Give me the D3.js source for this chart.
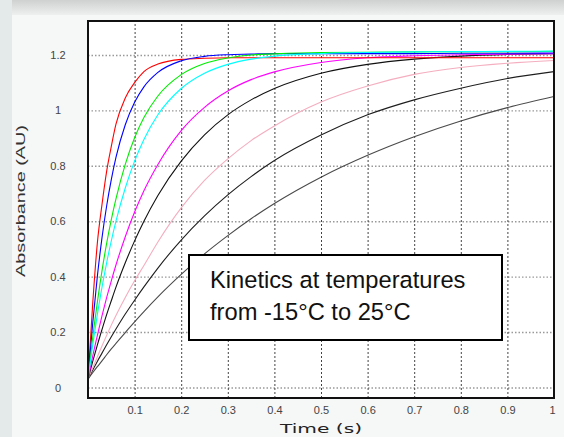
<!DOCTYPE html>
<html lang="en">
<head>
<meta charset="utf-8">
<style>
  body { margin: 0; background: #f4f5f5; }
  svg { display: block; font-family: 'Liberation Sans', Arial, sans-serif; }
  .grid-x line { stroke: #444; stroke-dasharray: 2,2; }
  .grid-y line { stroke: #999; stroke-width: 1.4; stroke-dasharray: 1.5,2; }
  .axis text { fill: #444; font-size: 11px; }
  .axis path, .axis line { display: none; }
  .curve { fill: none; stroke-width: 1.1; }
</style>
</head>
<body>
<svg width="564" height="437"></svg>
<script src="https://cdnjs.cloudflare.com/ajax/libs/d3/7.8.5/d3.min.js"></script>
<script>
// sample times (s)
var times = [0, 0.01, 0.02, 0.03, 0.04, 0.05, 0.06, 0.08, 0.1, 0.12, 0.15, 0.2,
             0.25, 0.3, 0.35, 0.4, 0.5, 0.6, 0.7, 0.8, 0.9, 1.0];

// absorbance, warmest (fastest) to coldest
var red     = [0.03, 0.30, 0.52, 0.66, 0.78, 0.87, 0.95, 1.045, 1.10, 1.14, 1.167, 1.184, 1.188, 1.19, 1.19, 1.19, 1.19, 1.19, 1.19, 1.19, 1.19, 1.19];
var blue    = [0.03, 0.23, 0.40, 0.54, 0.655, 0.75, 0.83, 0.948, 1.029, 1.085, 1.137, 1.179, 1.195, 1.201, 1.203, 1.205, 1.205, 1.205, 1.205, 1.206, 1.206, 1.207];
var green   = [0.03, 0.178, 0.307, 0.421, 0.52, 0.606, 0.681, 0.805, 0.901, 0.974, 1.052, 1.129, 1.169, 1.189, 1.20, 1.204, 1.209, 1.21, 1.211, 1.212, 1.212, 1.213];
var cyan    = [0.03, 0.153, 0.263, 0.361, 0.45, 0.529, 0.60, 0.72, 0.817, 0.895, 0.984, 1.079, 1.134, 1.166, 1.185, 1.196, 1.205, 1.209, 1.211, 1.212, 1.213, 1.214];
var magenta = [0.03, 0.112, 0.187, 0.258, 0.324, 0.385, 0.442, 0.544, 0.633, 0.71, 0.805, 0.927, 1.011, 1.07, 1.111, 1.139, 1.173, 1.19, 1.197, 1.201, 1.203, 1.205];
var black1  = [0.03, 0.093, 0.153, 0.209, 0.263, 0.313, 0.362, 0.45, 0.529, 0.60, 0.693, 0.817, 0.912, 0.984, 1.038, 1.079, 1.134, 1.166, 1.185, 1.196, 1.202, 1.205];
var pink    = [0.03, 0.07, 0.11, 0.15, 0.188, 0.225, 0.26, 0.325, 0.385, 0.44, 0.525, 0.648, 0.747, 0.825, 0.891, 0.944, 1.03, 1.088, 1.13, 1.155, 1.17, 1.18];
var black2  = [0.03, 0.062, 0.094, 0.124, 0.154, 0.183, 0.211, 0.265, 0.315, 0.363, 0.431, 0.532, 0.619, 0.695, 0.761, 0.819, 0.911, 0.984, 1.038, 1.08, 1.115, 1.14];
var black3  = [0.03, 0.053, 0.075, 0.096, 0.118, 0.139, 0.159, 0.198, 0.237, 0.274, 0.327, 0.408, 0.482, 0.548, 0.609, 0.664, 0.759, 0.838, 0.905, 0.962, 1.01, 1.05];

var series = [
  { values: black3,  color: "#4a4a4a" },
  { values: black2,  color: "#1e1e1e" },
  { values: pink,    color: "#f4aebf" },
  { values: black1,  color: "#111111" },
  { values: magenta, color: "#ff00ff" },
  { values: red,     color: "#ff0000" },
  { values: blue,    color: "#0000ff" },
  { values: green,   color: "#00ee00" },
  { values: cyan,    color: "#00ffff" }
];

var xTicks = [0.1, 0.2, 0.3, 0.4, 0.5, 0.6, 0.7, 0.8, 0.9, 1];
var yTicks = [0, 0.2, 0.4, 0.6, 0.8, 1, 1.2];

var svg = d3.select("svg");

// page background bits
var defs = svg.append("defs");
var grad = defs.append("linearGradient").attr("id", "topband")
    .attr("x1", 0).attr("y1", 0).attr("x2", 0).attr("y2", 1);
grad.append("stop").attr("offset", "0%").attr("stop-color", "#cfd1d1");
grad.append("stop").attr("offset", "100%").attr("stop-color", "#eef0f0");

svg.append("rect").attr("width", 564).attr("height", 437).attr("fill", "#f6f7f7");
svg.append("rect").attr("width", 564).attr("height", 15).attr("fill", "url(#topband)");
svg.append("rect").attr("x", 0).attr("y", 0).attr("width", 12).attr("height", 437).attr("fill", "#e4eaea");

var plotL = 88, plotR = 554, plotT = 21, plotB = 398;

var x = d3.scaleLinear().domain([0, 1]).range([plotL, plotR]);
var y = d3.scaleLinear().domain([-0.038, 1.3226]).range([plotB, plotT]);

// plot area
svg.append("rect")
    .attr("x", plotL).attr("y", plotT)
    .attr("width", plotR - plotL).attr("height", plotB - plotT)
    .attr("fill", "#fff");

// grid
svg.append("g").attr("class", "grid-y")
    .attr("transform", "translate(" + plotL + ",0)")
    .call(d3.axisLeft(y).tickValues(yTicks).tickSize(-(plotR - plotL)).tickFormat(""))
    .call(g => g.select(".domain").remove());

svg.append("g").attr("class", "grid-x")
    .attr("transform", "translate(0," + plotB + ")")
    .call(d3.axisBottom(x).tickValues(xTicks.slice(0, -1)).tickSize(-(plotB - plotT)).tickFormat(""))
    .call(g => g.select(".domain").remove());

// curves
var line = d3.line()
    .x((d, i) => x(times[i]))
    .y(d => y(d))
    .curve(d3.curveMonotoneX);

svg.append("g").selectAll("path")
  .data(series)
  .enter().append("path")
    .attr("class", "curve")
    .attr("stroke", d => d.color)
    .attr("d", d => line(d.values));

// frame
svg.append("rect")
    .attr("x", plotL).attr("y", plotT)
    .attr("width", plotR - plotL).attr("height", plotB - plotT)
    .attr("fill", "none").attr("stroke", "#111").attr("stroke-width", 2);

// tick labels
svg.append("g").attr("class", "axis")
    .attr("transform", "translate(0," + plotB + ")")
    .call(d3.axisBottom(x).tickValues(xTicks).tickSize(0).tickPadding(8)
      .tickFormat(d => d === 1 ? "1" : d3.format(".1f")(d)))
    .selectAll("text").attr("x", d => d === 1 ? -2 : 0);

svg.append("g").attr("class", "axis")
    .attr("transform", "translate(" + plotL + ",0)")
    .call(d3.axisLeft(y).tickValues(yTicks).tickSize(0)
      .tickFormat(d => d === 0 || d === 1 ? String(d) : d3.format(".1f")(d)))
    .selectAll("text")
      .attr("text-anchor", "middle")
      .attr("x", 58 - plotL);

// axis titles
svg.append("text")
    .attr("x", 321).attr("y", 433)
    .attr("text-anchor", "middle")
    .attr("font-family", "DejaVu Sans, Verdana, sans-serif")
    .attr("font-size", 12)
    .attr("fill", "#222")
    .attr("textLength", 82).attr("lengthAdjust", "spacingAndGlyphs")
    .text("Time (s)");

svg.append("text")
    .attr("transform", "translate(25,201) rotate(-90)")
    .attr("text-anchor", "middle")
    .attr("font-size", 13)
    .attr("fill", "#333")
    .attr("textLength", 152).attr("lengthAdjust", "spacingAndGlyphs")
    .text("Absorbance (AU)");

// annotation box
svg.append("rect")
    .attr("x", 189).attr("y", 255).attr("width", 313).attr("height", 85)
    .attr("fill", "#fff").attr("stroke", "#000").attr("stroke-width", 2);

var note = svg.append("text")
    .attr("font-size", 23.7).attr("fill", "#111");
note.append("tspan").attr("x", 210).attr("y", 288).text("Kinetics at temperatures");
note.append("tspan").attr("x", 210).attr("y", 320).text("from -15°C to 25°C");
</script>
</body>
</html>
